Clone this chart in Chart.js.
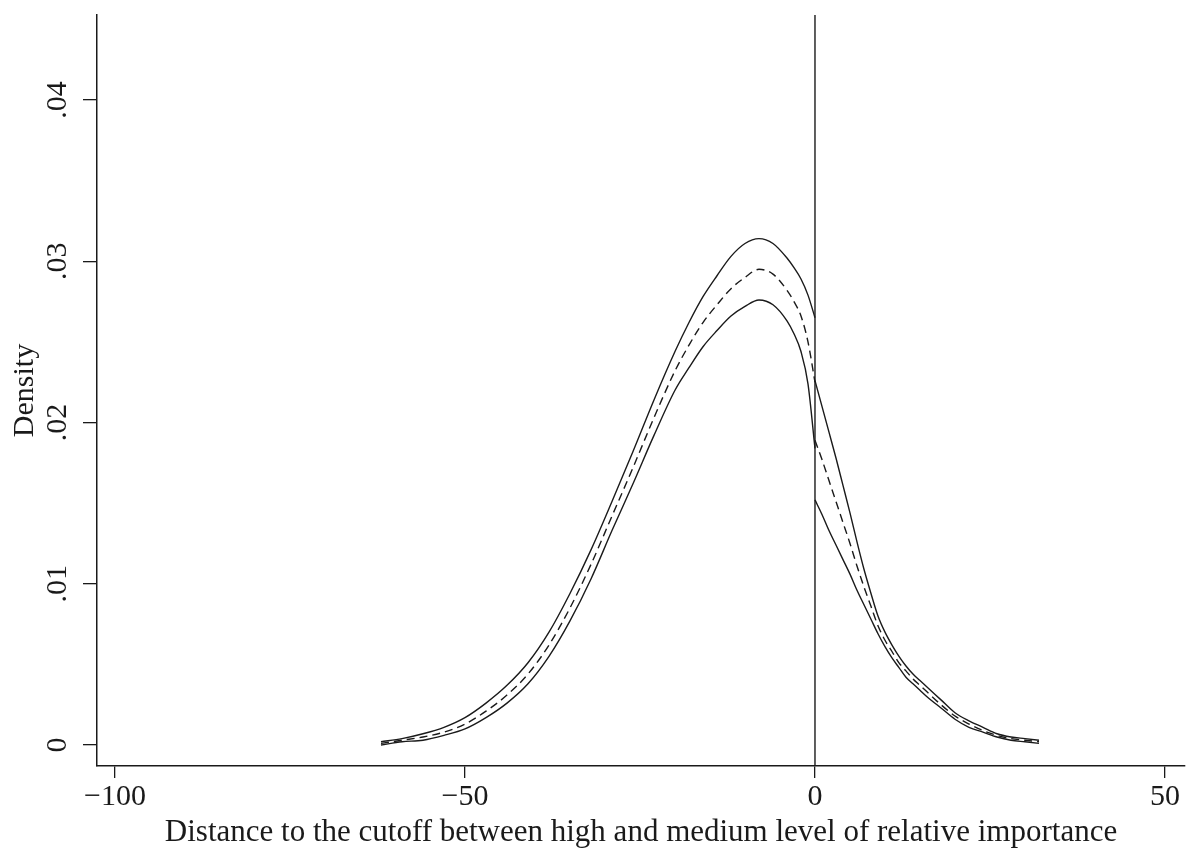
<!DOCTYPE html>
<html>
<head>
<meta charset="utf-8">
<script src="https://cdn.jsdelivr.net/npm/chart.js@4.4.1/dist/chart.umd.min.js"></script>
<style>
  html, body { margin: 0; padding: 0; background: #ffffff; }
  #wrap { width: 1188px; height: 851px; position: relative; }
</style>
</head>
<body>
<div id="wrap"><canvas id="c"></canvas></div>
<script>
// ---- data ----
const xTitle = 'Distance to the cutoff between high and medium level of relative importance';
const yTitle = 'Density';
const xTicks = [-100, -50, 0, 50];
const xTickLabels = ['\u2212100', '\u221250', '0', '50'];
const yTicks = [0, 0.01, 0.02, 0.03, 0.04];
const yTickLabels = ['0', '.01', '.02', '.03', '.04'];
const xRange = [-102.57, 52.86];
const yRange = [-0.0013, 0.04527];
const cutoff = 0;

// left of the cutoff
const xLeft     = [-62, -59, -56, -53, -50, -47, -44, -41, -38, -35, -32, -29, -26, -23, -20, -18, -16, -14, -12, -10, -8, -6, -4, -3, -2, -1, 0];
const upperLeft = [0.0002, 0.0004, 0.0007, 0.0011, 0.0017, 0.0026, 0.0037, 0.0051, 0.0070, 0.0094, 0.0121, 0.0151, 0.0182, 0.0214, 0.0244, 0.0262, 0.0278, 0.0291, 0.0303, 0.0311, 0.0314, 0.0311, 0.0302, 0.0296, 0.0289, 0.0279, 0.0265];
const midLeft   = [0.0001, 0.0003, 0.0005, 0.0008, 0.0013, 0.0021, 0.0031, 0.0044, 0.0062, 0.0085, 0.0112, 0.0142, 0.0172, 0.0203, 0.0232, 0.0248, 0.0262, 0.0273, 0.0283, 0.0290, 0.0295, 0.0292, 0.0282, 0.0275, 0.0266, 0.0250, 0.0225];
const lowerLeft = [0.0000, 0.0002, 0.0003, 0.0006, 0.0010, 0.0017, 0.0026, 0.0038, 0.0055, 0.0077, 0.0103, 0.0133, 0.0162, 0.0192, 0.0220, 0.0234, 0.0247, 0.0257, 0.0266, 0.0272, 0.0276, 0.0273, 0.0263, 0.0255, 0.0244, 0.0224, 0.0184];

// right of the cutoff
const xRight     = [0, 1, 2, 3, 4, 5, 6, 7, 8, 9, 10, 11, 12, 13, 14, 15, 16, 18, 20, 22, 24, 26, 28, 30, 32];
const upperRight = [0.0226, 0.0210, 0.0194, 0.0178, 0.0161, 0.0144, 0.0126, 0.0109, 0.0094, 0.0080, 0.0070, 0.0062, 0.0055, 0.0049, 0.0044, 0.0040, 0.0036, 0.0028, 0.0020, 0.0015, 0.0011, 0.0007, 0.0005, 0.0004, 0.0003];
const midRight   = [0.0189, 0.0177, 0.0164, 0.0151, 0.0138, 0.0125, 0.0111, 0.0098, 0.0086, 0.0074, 0.0065, 0.0058, 0.0051, 0.0046, 0.0041, 0.0037, 0.0033, 0.0025, 0.0018, 0.0013, 0.0009, 0.0006, 0.0004, 0.0003, 0.0002];
const lowerRight = [0.0152, 0.0143, 0.0133, 0.0124, 0.0115, 0.0106, 0.0096, 0.0087, 0.0078, 0.0069, 0.0061, 0.0054, 0.0048, 0.0042, 0.0038, 0.0034, 0.0030, 0.0023, 0.0016, 0.0011, 0.0008, 0.0005, 0.0003, 0.0002, 0.0001];

// ---- build chart ----
const FONT = 'Liberation Serif';
const INK = '#1a1a1a';
const pts = (xs, ys) => xs.map((x, i) => ({ x: x, y: ys[i] }));

function curve(data, dashed) {
  return {
    data: data,
    showLine: true,
    borderColor: INK,
    borderWidth: 1.4,
    borderDash: dashed ? [8, 5] : [],
    pointRadius: 0,
    pointHoverRadius: 0,
    fill: false,
    cubicInterpolationMode: 'monotone'
  };
}

const datasets = [
  curve(pts(xLeft, upperLeft), false),
  curve(pts(xLeft, midLeft), true),
  curve(pts(xLeft, lowerLeft), false),
  curve(pts(xRight, upperRight), false),
  curve(pts(xRight, midRight), true),
  curve(pts(xRight, lowerRight), false),
  {
    data: [{ x: cutoff, y: yRange[0] }, { x: cutoff, y: yRange[1] }],
    showLine: true,
    borderColor: INK,
    borderWidth: 1.4,
    pointRadius: 0,
    pointHoverRadius: 0,
    fill: false
  }
];

new Chart(document.getElementById('c'), {
  type: 'scatter',
  data: { datasets: datasets },
  options: {
    responsive: true,
    maintainAspectRatio: false,
    animation: false,
    events: [],
    layout: { padding: { top: 15, right: 3, left: 0, bottom: 0 } },
    plugins: { legend: { display: false }, tooltip: { enabled: false } },
    scales: {
      x: {
        type: 'linear',
        min: xRange[0],
        max: xRange[1],
        afterBuildTicks: (s) => { s.ticks = xTicks.map(v => ({ value: v })); },
        afterFit: (s) => { s.height = 85; s.paddingLeft = 0; s.paddingRight = 0; },
        grid: { drawOnChartArea: false, drawTicks: true, tickLength: 12, color: INK, lineWidth: 1.3 },
        border: { display: true, color: INK, width: 1.5 },
        ticks: {
          autoSkip: false,
          maxRotation: 0,
          padding: 1,
          color: INK,
          font: { family: FONT, size: 30 },
          callback: (v, i) => xTickLabels[i]
        },
        title: {
          display: true,
          text: xTitle,
          color: INK,
          font: { family: FONT, size: 31 },
          padding: { top: 0, bottom: 0 }
        }
      },
      y: {
        type: 'linear',
        min: yRange[0],
        max: yRange[1],
        afterBuildTicks: (s) => { s.ticks = yTicks.map(v => ({ value: v })); },
        afterFit: (s) => { s.width = 97; s.paddingTop = 0; s.paddingBottom = 0; },
        grid: { drawOnChartArea: false, drawTicks: true, tickLength: 14, color: INK, lineWidth: 1.3 },
        border: { display: true, color: INK, width: 1.5 },
        ticks: {
          autoSkip: false,
          minRotation: 90,
          maxRotation: 90,
          crossAlign: 'center',
          padding: 6,
          color: INK,
          font: { family: FONT, size: 30 },
          callback: (v, i) => yTickLabels[i]
        },
        title: {
          display: true,
          text: yTitle,
          color: INK,
          font: { family: FONT, size: 30 },
          padding: { top: 7, bottom: 0 }
        }
      }
    }
  }
});
</script>
</body>
</html>
